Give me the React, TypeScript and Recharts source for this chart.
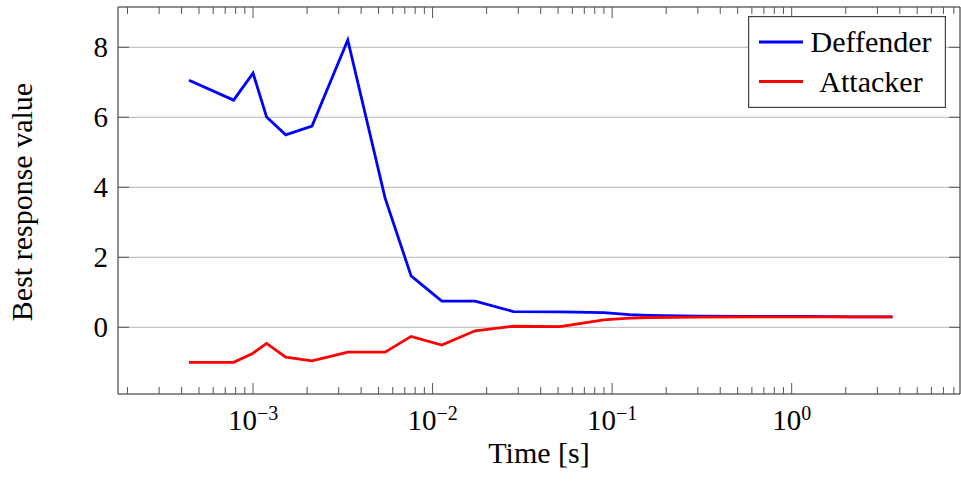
import { LineChart, Line, XAxis, YAxis, CartesianGrid, Legend, Label } from "recharts";

// time [s] on a log axis
const times = [
  4.4e-4, 7.8e-4, 1.0e-3, 1.19e-3, 1.52e-3, 2.13e-3, 3.37e-3, 5.44e-3, 7.59e-3,
  0.01125, 0.01725, 0.0282, 0.0513, 0.0898, 0.125, 0.16, 0.3, 0.6, 1.2, 2.2, 3.64,
];
const defender = [
  7.06, 6.49, 7.26, 6.01, 5.5, 5.75, 8.21, 3.69, 1.47,
  0.75, 0.75, 0.45, 0.44, 0.42, 0.36, 0.34, 0.32, 0.31, 0.31, 0.3, 0.3,
];
const attacker = [
  -1.0, -1.0, -0.74, -0.46, -0.85, -0.96, -0.71, -0.71, -0.26,
  -0.51, -0.1, 0.03, 0.02, 0.21, 0.26, 0.28, 0.29, 0.3, 0.3, 0.3, 0.3,
];
const seriesNames = ["Deffender", "Attacker"];

const majorTicks = [1e-3, 1e-2, 1e-1, 1];
const minorTicks = [-4, -3, -2, -1, 0]
  .flatMap((e) => [2, 3, 4, 5, 6, 7, 8, 9].map((m) => m * Math.pow(10, e)))
  .filter((v) => v > 1.77e-4 && v < 8.6);
const yTicks = [0, 2, 4, 6, 8];

const data = times.map((t, i) => ({ t, def: defender[i], att: attacker[i] }));

const FONT = "'Liberation Serif', 'Times New Roman', serif";
const FRAME = "#444";
const TICK = "#555";
const xDomain = [1.77e-4, 8.656];
const yDomain = [-1.906, 9.151];
const allX = [...majorTicks, ...minorTicks].sort((a, b) => a - b);

const isMajor = (v: number) => {
  const e = Math.log10(v);
  return Math.abs(e - Math.round(e)) < 1e-6;
};

const BottomTick = (props: any) => {
  const { x, y, payload } = props;
  const major = isMajor(payload.value);
  const exp = Math.round(Math.log10(payload.value));
  return (
    <g>
      <line x1={x} x2={x} y1={y} y2={y - (major ? 11 : 7)} stroke={TICK} strokeWidth={1} />
      {major && (
        <text x={x} y={y + 36} textAnchor="middle" fontFamily={FONT} fontSize={29} fill="#000">
          10
          <tspan dy={-10} fontSize={20}>
            {exp < 0 ? "\u2212" + Math.abs(exp) : String(exp)}
          </tspan>
        </text>
      )}
    </g>
  );
};

const TopTick = (props: any) => {
  const { x, y, payload } = props;
  const major = isMajor(payload.value);
  return <line x1={x} x2={x} y1={y} y2={y + (major ? 11 : 7)} stroke={TICK} strokeWidth={1} />;
};

const LeftTick = (props: any) => {
  const { x, y, payload } = props;
  return (
    <g>
      <line x1={x} x2={x + 11} y1={y} y2={y} stroke={TICK} strokeWidth={1} />
      <text x={x - 10} y={y + 9.5} textAnchor="end" fontFamily={FONT} fontSize={29} fill="#000">
        {payload.value}
      </text>
    </g>
  );
};

const RightTick = (props: any) => {
  const { x, y } = props;
  return <line x1={x} x2={x - 11} y1={y} y2={y} stroke={TICK} strokeWidth={1} />;
};

const LegendBox = (props: any) => {
  const items = [...(props.payload || [])].sort(
    (a: any, b: any) => seriesNames.indexOf(a.value) - seriesNames.indexOf(b.value)
  );
  return (
    <svg width={198} height={92} style={{ display: "block" }}>
      <rect x={0.6} y={0.6} width={196.8} height={90.8} fill="#fff" stroke={FRAME} strokeWidth={1.2} />
      {items.map((it: any, i: number) => (
        <g key={it.value}>
          <line x1={11} x2={55} y1={26 + i * 39.5} y2={26 + i * 39.5} stroke={it.color} strokeWidth={2.8} />
          <text x={123} y={36 + i * 40} textAnchor="middle" fontFamily={FONT} fontSize={30} fill="#000">
            {it.value}
          </text>
        </g>
      ))}
    </svg>
  );
};

export default function App() {
  return (
    <div style={{ position: "absolute", left: 0, top: 0 }}>
      <LineChart
        width={961}
        height={482}
        data={data}
        margin={{ top: 6, right: 0, bottom: 0, left: 0 }}
        style={{ fontFamily: FONT }}
      >
        <CartesianGrid xAxisId="b" yAxisId="l" vertical={false} stroke="#b4b4b4" strokeWidth={1} />
        <XAxis
          xAxisId="b"
          dataKey="t"
          type="number"
          scale="log"
          domain={xDomain}
          allowDataOverflow
          ticks={allX}
          interval={0}
          height={88}
          tickSize={0}
          tickMargin={0}
          tickLine={false}
          axisLine={{ stroke: FRAME, strokeWidth: 1.2 }}
          tick={<BottomTick />}
        >
          <Label
            content={() => (
              <text x={539} y={463} textAnchor="middle" fontFamily={FONT} fontSize={30} fill="#000">
                Time [s]
              </text>
            )}
          />
        </XAxis>
        <XAxis
          xAxisId="t"
          dataKey="t"
          type="number"
          scale="log"
          orientation="top"
          domain={xDomain}
          allowDataOverflow
          ticks={allX}
          interval={0}
          height={1}
          tickSize={0}
          tickMargin={0}
          tickLine={false}
          axisLine={{ stroke: FRAME, strokeWidth: 1.2 }}
          tick={<TopTick />}
        />
        <YAxis
          yAxisId="l"
          type="number"
          domain={yDomain}
          allowDataOverflow
          ticks={yTicks}
          interval={0}
          width={118}
          tickSize={0}
          tickMargin={0}
          tickLine={false}
          axisLine={{ stroke: FRAME, strokeWidth: 1.2 }}
          tick={<LeftTick />}
        >
          <Label
            content={() => (
              <text
                x={31.5}
                y={202}
                textAnchor="middle"
                transform="rotate(-90 31.5 202)"
                fontFamily={FONT}
                fontSize={30}
                fill="#000"
              >
                Best response value
              </text>
            )}
          />
        </YAxis>
        <YAxis
          yAxisId="r"
          orientation="right"
          type="number"
          domain={yDomain}
          allowDataOverflow
          ticks={yTicks}
          interval={0}
          width={1}
          tickSize={0}
          tickMargin={0}
          tickLine={false}
          axisLine={{ stroke: FRAME, strokeWidth: 1.2 }}
          tick={<RightTick />}
        />
        <Legend
          layout="vertical"
          align="center"
          verticalAlign="middle"
          content={<LegendBox />}
          wrapperStyle={{ left: 748, top: 16, width: 198, height: 92 }}
        />
        <Line
          xAxisId="b"
          yAxisId="l"
          name={seriesNames[0]}
          dataKey="def"
          type="linear"
          stroke="#0000ff"
          strokeWidth={2.8}
          dot={false}
          isAnimationActive={false}
        />
        <Line
          xAxisId="b"
          yAxisId="l"
          name={seriesNames[1]}
          dataKey="att"
          type="linear"
          stroke="#ff0000"
          strokeWidth={2.8}
          dot={false}
          isAnimationActive={false}
        />
      </LineChart>
    </div>
  );
}
